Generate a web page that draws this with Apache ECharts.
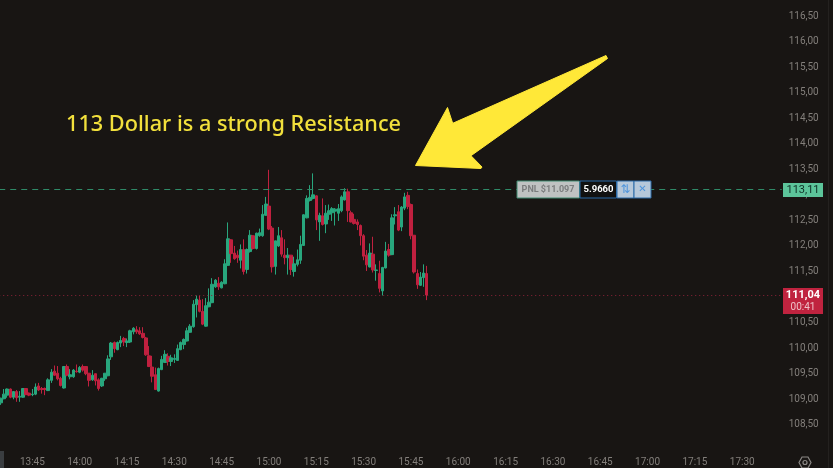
<!DOCTYPE html>
<html><head><meta charset="utf-8">
<style>html,body{margin:0;padding:0;background:#181513}#c{width:833px;height:468px}</style>
<script src="https://cdn.jsdelivr.net/npm/echarts@6/dist/echarts.min.js"></script>
</head><body><div id="c"></div>
<script>
const opens=[108.93,109.01,109.08,109.20,109.04,109.15,109.04,109.04,109.21,109.12,
109.09,109.10,109.26,109.21,109.21,109.17,109.37,109.55,109.51,109.41,
109.22,109.64,109.44,109.44,109.55,109.53,109.64,109.64,109.51,109.38,
109.50,109.38,109.26,109.40,109.46,109.83,110.11,109.97,110.10,110.19,
110.11,110.12,110.32,110.36,110.34,110.29,110.20,109.85,109.63,109.48,
109.16,109.58,109.72,109.84,109.74,109.78,109.76,109.97,110.07,110.14,
110.31,110.42,110.85,110.94,110.72,110.43,110.81,110.89,111.20,111.27,
111.18,111.26,111.62,112.12,111.86,111.82,111.72,111.93,111.54,111.89,
112.20,111.95,112.20,112.20,112.60,112.78,112.35,111.60,112.00,112.16,
111.82,111.77,111.82,111.50,111.64,111.72,112.01,112.55,112.89,112.93,
112.98,112.47,112.59,112.43,112.62,112.65,112.68,112.64,112.69,112.90,
113.06,112.65,112.52,112.47,112.40,112.20,111.82,111.59,111.84,111.52,
111.46,111.12,111.57,111.93,111.83,112.59,112.67,112.37,112.74,112.99,
112.81,112.21,111.46,111.23,111.38,111.46];
const highs=[109.03,109.20,109.21,109.21,109.16,109.18,109.16,109.21,109.21,109.13,
109.20,109.31,109.32,109.24,109.23,109.41,109.59,109.66,109.65,109.44,
109.65,109.68,109.59,109.59,109.68,109.65,109.68,109.65,109.51,109.57,
109.50,109.41,109.42,109.51,109.86,110.12,110.13,110.13,110.24,110.22,
110.19,110.36,110.41,110.43,110.41,110.41,110.22,110.04,109.85,109.62,
109.62,109.85,109.96,109.90,109.87,109.88,110.07,110.13,110.19,110.40,
110.47,110.94,111.03,111.03,110.96,110.98,111.17,111.37,111.35,111.39,
111.31,111.74,112.46,112.13,112.00,111.91,112.03,112.13,111.95,112.31,
112.21,112.26,112.34,112.80,112.96,113.49,112.39,112.10,112.37,112.31,
112.13,111.96,111.82,111.79,111.93,112.20,112.62,112.99,113.19,113.42,
112.99,112.65,112.93,112.80,112.81,112.76,112.74,112.82,112.99,113.13,
113.12,112.69,112.63,112.52,112.42,112.23,111.92,112.05,112.18,111.64,
111.71,111.59,112.08,112.04,112.62,112.76,112.80,112.78,113.04,113.06,
112.83,112.21,111.54,111.49,111.64,111.61];
const lows=[108.89,109.00,109.03,109.02,109.00,108.95,108.95,109.03,109.08,109.06,
109.06,109.08,109.16,109.11,109.08,109.16,109.32,109.46,109.37,109.25,
109.21,109.45,109.39,109.42,109.52,109.51,109.54,109.47,109.25,109.36,
109.27,109.17,109.24,109.36,109.45,109.77,109.91,109.96,110.02,110.04,
110.02,110.10,110.27,110.28,110.26,110.19,109.85,109.63,109.33,109.18,
109.15,109.57,109.71,109.66,109.65,109.71,109.75,109.96,109.98,110.13,
110.30,110.40,110.60,110.70,110.45,110.42,110.80,110.88,111.18,111.14,
111.17,111.25,111.61,111.67,111.73,111.67,111.56,111.44,111.46,111.87,
111.93,111.93,112.18,112.18,112.59,112.31,111.48,111.44,111.98,111.79,
111.64,111.44,111.43,111.40,111.60,111.65,112.00,112.54,112.87,112.91,
112.31,112.10,112.40,112.25,112.51,112.49,112.40,112.49,112.66,112.89,
112.47,112.46,112.42,112.31,112.01,111.72,111.51,111.58,111.48,111.32,
111.09,111.03,111.56,111.79,111.82,112.42,112.29,112.29,112.70,112.72,
112.13,111.46,111.16,111.22,111.20,110.94];
const closes=[109.02,109.10,109.20,109.04,109.15,109.03,109.06,109.21,109.09,109.08,
109.10,109.24,109.18,109.19,109.19,109.38,109.53,109.47,109.40,109.27,
109.64,109.47,109.48,109.57,109.54,109.62,109.57,109.50,109.37,109.47,
109.36,109.21,109.41,109.51,109.79,110.10,109.99,110.11,110.15,110.12,
110.14,110.34,110.39,110.32,110.28,110.21,109.87,109.64,109.45,109.19,
109.60,109.78,109.88,109.74,109.81,109.80,109.99,110.11,110.17,110.34,
110.43,110.86,110.96,110.72,110.47,110.83,110.90,111.25,111.33,111.20,
111.29,111.65,112.14,111.85,111.75,111.77,111.93,111.50,111.93,112.21,
111.95,112.25,112.26,112.62,112.82,112.33,111.59,112.10,112.20,111.84,
111.77,111.82,111.54,111.65,111.73,112.03,112.61,112.93,112.95,113.00,
112.51,112.60,112.42,112.64,112.69,112.73,112.72,112.73,112.96,113.06,
112.69,112.47,112.44,112.42,112.20,111.80,111.63,111.86,111.53,111.53,
111.17,111.58,111.90,111.82,112.55,112.61,112.31,112.76,112.96,112.77,
112.20,111.49,111.24,111.39,111.47,111.04];
const positionPrice=113.11;
const lastPrice=111.04;
const priceTick='113,11';
const lastTick='111,04';
const countdown='00:41';
const headline='113 Dollar is a strong Resistance';
const pnlText='PNL $11.097';
const qtyText='5.9660';

const startMin=13*60+35, slotCount=248;
const categories=[];
for(let i=0;i<slotCount;i++){
  const m=startMin+i;
  categories.push(String(Math.floor(m/60)).padStart(2,'0')+':'+String(m%60).padStart(2,'0'));
}
const ohlc=opens.map((o,i)=>[o,closes[i],lows[i],highs[i]]);
const UP='#28a67d',DOWN='#c0203f',LABEL='#837f7b';
const chart=echarts.init(document.getElementById('c'),null,{renderer:'canvas'});
const box=(x,y,w,h,fill,stroke)=>({type:'rect',shape:{x,y,width:w,height:h},style:{fill,stroke,lineWidth:1},z:50});
const txt=(x,y,t,fs,fw,fill,family)=>({type:'text',x,y,z:60,style:{text:t,font:fw+' '+fs+'px '+(family||'Roboto'),fill,align:'center',verticalAlign:'middle'}});
chart.setOption({
  animation:false,
  backgroundColor:'#181513',
  grid:{left:-0.78,top:-9.55,width:782.44,height:459.9,containLabel:false,outerBoundsMode:'none'},
  xAxis:{type:'category',data:categories,boundaryGap:true,
    axisLine:{show:false},axisTick:{show:false},splitLine:{show:false},
    axisLabel:{color:LABEL,fontSize:10,fontFamily:'Roboto',margin:7,hideOverlap:false,
      interval:(i,v)=>Number(v.slice(3))%15===0}},
  yAxis:{type:'value',position:'right',min:108,max:117,interval:0.5,scale:true,
    axisLine:{show:false},axisTick:{show:false},splitLine:{show:false},
    axisLabel:{color:LABEL,fontSize:10,fontFamily:'Roboto',margin:7,showMinLabel:false,showMaxLabel:false,
      formatter:v=>v.toFixed(2).replace('.',',')}},
  series:[{type:'candlestick',data:ohlc,barWidth:3,clip:false,
    itemStyle:{color:UP,color0:DOWN,borderColor:UP,borderColor0:DOWN,borderWidth:1},
    markLine:{silent:true,symbol:'none',label:{show:false},animation:false,
      data:[
        {yAxis:positionPrice,lineStyle:{color:'#2f8a68',type:[6,5],width:1}},
        {yAxis:lastPrice,lineStyle:{color:'#8c2238',type:[1,3],width:1}}
      ]}}],
  graphic:[
    {type:'rect',shape:{x:0,y:451,width:4,height:17},style:{fill:'#3a3d40'},z:40},
    {type:'rect',shape:{x:828,y:0,width:1,height:468},style:{fill:'#24211f'},z:40},
    {type:'polygon',z:50,shape:{points:[[415.5,165.5],[447.5,107.5],[452.7,123.3],[606,55.5],[607.5,58.5],[471,155.7],[482,167],[481,168.5]]},
      style:{fill:'#ffe838',stroke:'#ffe838',lineWidth:1,lineJoin:'round'}},
    {type:'text',x:66,y:125,z:60,style:{text:headline,font:'500 21.7px "Noto Sans"',fill:'#f2e03c',align:'left',verticalAlign:'middle'}},
    box(517,181,62.5,17,'#bfc2c2','#3f8a70'),
    txt(548,189.5,pnlText,9,'bold','#7b7d7e'),
    box(580,181,36.5,17,'#111111','#2b6aa8'),
    txt(598.5,189.5,qtyText,9.5,'bold','#ffffff'),
    box(617,181,17,17,'#b6c8da','#2b6aa8'),
    txt(625.5,189.5,'⇅',12,'normal','#4d94dc','DejaVu Sans'),
    box(634,181,17,17,'#b6c8da','#2b6aa8'),
    txt(642.5,189.5,'✕',10,'normal','#4d94dc','DejaVu Sans'),
    box(783,183,40,14,'#5cc49a'),
    txt(803,190,priceTick,11,'normal','#0f2f26'),
    box(783,288,40,26,'#c0233f'),
    txt(803,295,lastTick,11,'bold','#ffffff'),
    txt(803,307,countdown,10,'normal','#eec0c8'),
    {type:'polygon',z:50,shape:{points:[[799,462.5],[802,457],[808,457],[811,462.5],[808,468],[802,468]]},style:{fill:'none',stroke:'#8a8784',lineWidth:1.2}},
    {type:'circle',z:50,shape:{cx:805,cy:462.5,r:2},style:{fill:'none',stroke:'#8a8784',lineWidth:1.2}}
  ]
});
</script></body></html>
